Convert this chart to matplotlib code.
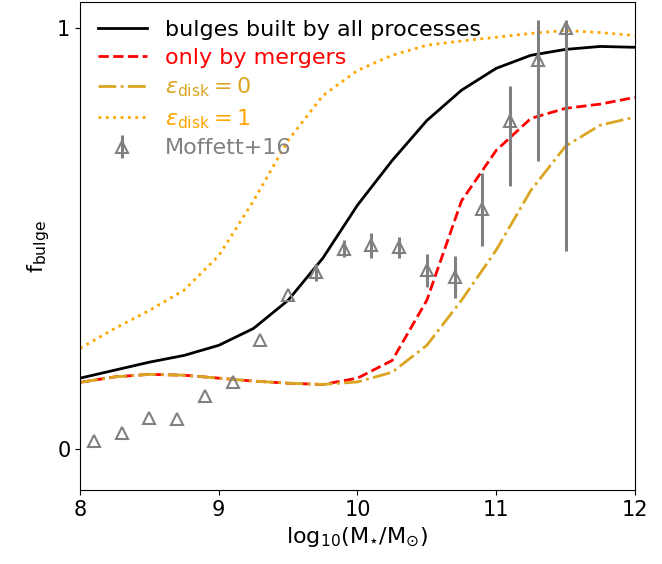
import numpy as np
import matplotlib.pyplot as plt

x_mod = [8.0, 8.25, 8.5, 8.75, 9.0, 9.25, 9.5, 9.75, 10.0, 10.25, 10.5, 10.75, 11.0, 11.25, 11.5, 11.75, 12.0]
f_all = [0.169, 0.188, 0.207, 0.223, 0.247, 0.287, 0.354, 0.454, 0.58, 0.686, 0.781, 0.853, 0.905, 0.936, 0.95, 0.957, 0.955]
f_merg = [0.159, 0.172, 0.178, 0.176, 0.169, 0.162, 0.157, 0.154, 0.169, 0.211, 0.354, 0.59, 0.71, 0.786, 0.81, 0.82, 0.836]
f_d0 = [0.159, 0.172, 0.178, 0.176, 0.169, 0.162, 0.157, 0.154, 0.160, 0.183, 0.247, 0.354, 0.473, 0.615, 0.72, 0.77, 0.789]
f_d1 = [0.24, 0.287, 0.33, 0.378, 0.46, 0.59, 0.734, 0.84, 0.9, 0.936, 0.96, 0.97, 0.979, 0.988, 0.995, 0.99, 0.983]

x_obs = [8.1, 8.3, 8.5, 8.7, 8.9, 9.1, 9.3, 9.5, 9.7, 9.9, 10.1, 10.3, 10.5, 10.7, 10.9, 11.1, 11.3, 11.5]
f_obs = [0.02, 0.038, 0.074, 0.071, 0.126, 0.16, 0.26, 0.366, 0.42, 0.477, 0.485, 0.48, 0.425, 0.41, 0.572, 0.78, 0.924, 1.0]
err_lo = [0, 0, 0, 0, 0, 0, 0, 0, 0.02, 0.02, 0.03, 0.025, 0.04, 0.05, 0.09, 0.154, 0.24, 0.53]
err_hi = [0, 0, 0, 0, 0, 0, 0, 0, 0.02, 0.02, 0.03, 0.025, 0.04, 0.05, 0.085, 0.083, 0.095, 0.02]

fig = plt.figure(figsize=(6.62, 5.64), dpi=100)
ax = fig.add_axes([0.121, 0.131, 0.838, 0.865])

ax.plot(x_mod, f_all, color='black', lw=2, label='bulges built by all processes')
ax.plot(x_mod, f_merg, color='red', lw=2, ls='--', label='only by mergers')
ax.plot(x_mod, f_d0, color='goldenrod', lw=2, ls='-.', label=r'$\epsilon_{\rm disk} = 0$')
ax.plot(x_mod, f_d1, color='orange', lw=2, ls=':', label=r'$\epsilon_{\rm disk} = 1$')
ax.errorbar(x_obs, f_obs, yerr=[err_lo, err_hi], fmt='^', color='gray', mfc='none',
            ms=9, mew=1.5, elinewidth=2.2, label='Moffett+16')

ax.set_xlim(8, 12)
ax.set_ylim(-0.097, 1.062)
ax.set_xticks([8, 9, 10, 11, 12])
ax.set_yticks([0, 1])
ax.tick_params(labelsize=15)
ax.set_xlabel(r'log$_{10}$(M$_{\star}$/M$_{\odot}$)', fontsize=16)
ax.set_ylabel(r'f$_{\rm bulge}$', fontsize=16)

leg = ax.legend(loc='upper left', fontsize=16, frameon=False, handlelength=2.2,
                borderaxespad=0.4, labelspacing=0.35)
for t, c in zip(leg.get_texts(), ['black', 'red', 'goldenrod', 'orange', 'gray']):
    t.set_color(c)

fig.savefig('out.png')
